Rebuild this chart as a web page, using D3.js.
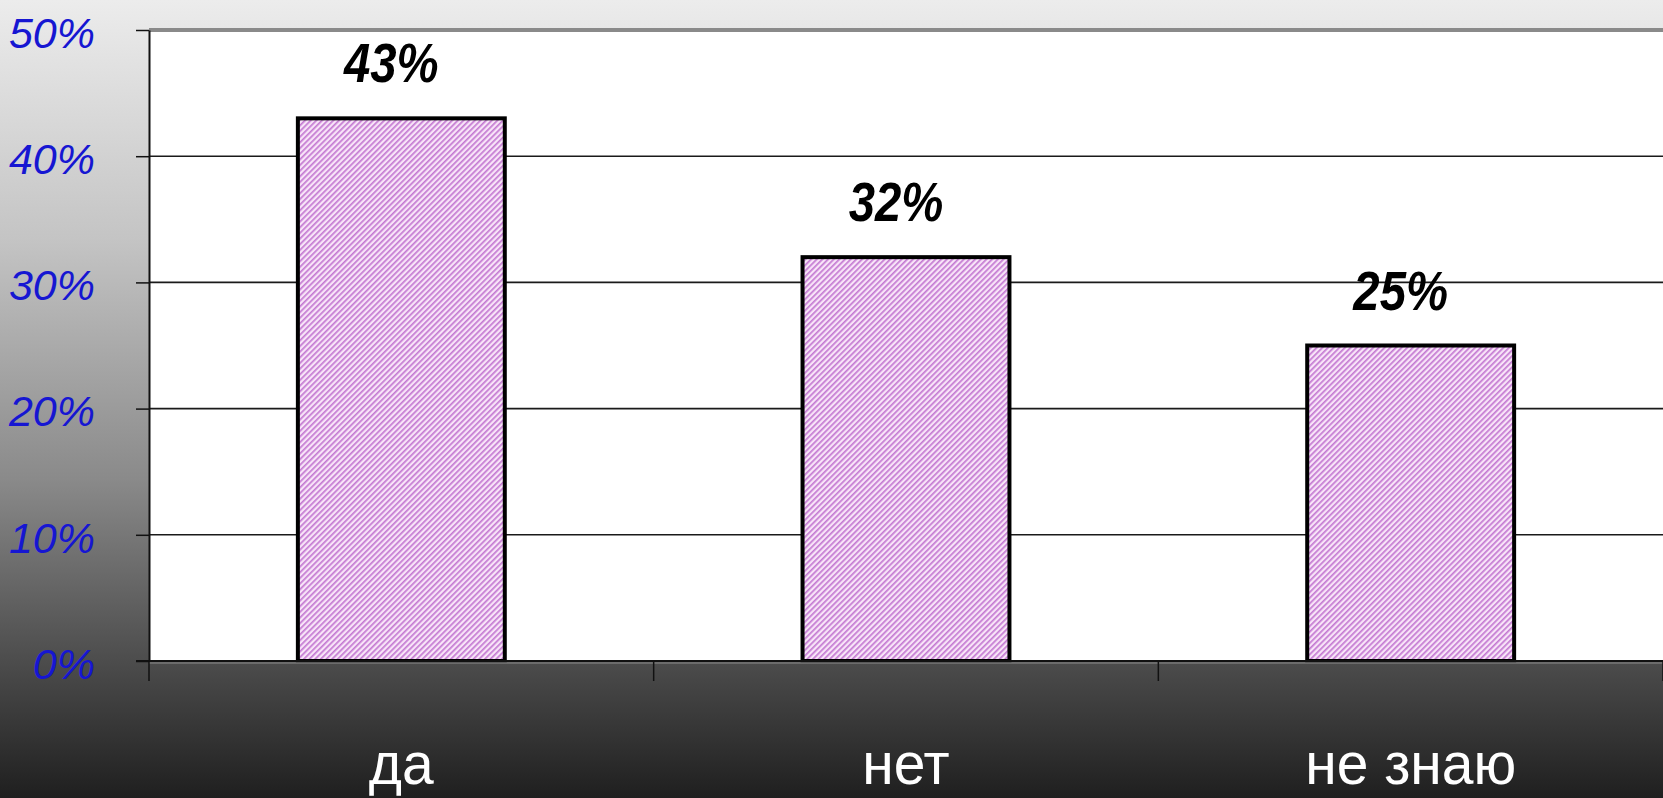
<!DOCTYPE html>
<html>
<head>
<meta charset="utf-8">
<script src="https://cdn.jsdelivr.net/npm/d3@7"></script>
<style>
    html, body { margin: 0; padding: 0; overflow: hidden; }
    svg { display: block; }
</style>
</head>
<body>
<div id="chart"></div>
<script>
// chart data
const categories = ["да", "нет", "не знаю"];
const values = [43, 32, 25];
const tickValues = [0, 10, 20, 30, 40, 50];

const width = 1663;
const height = 798;
const plot = { left: 149, right: 1663, top: 30, bottom: 661 };

const svg = d3.select("#chart")
    .append("svg")
    .attr("width", width)
    .attr("height", height);

const defs = svg.append("defs");

// background: vertical grey gradient
const bg = defs.append("linearGradient")
    .attr("id", "bg")
    .attr("x1", 0).attr("y1", 0)
    .attr("x2", 0).attr("y2", 1);
[
    [0, "#ececec"],
    [0.3, "#c4c4c4"],
    [0.6, "#8a8a8a"],
    [0.83, "#4c4c4c"],
    [1, "#1f1f1f"]
].forEach(([o, c]) => bg.append("stop").attr("offset", o).attr("stop-color", c));

// hatch pattern for bars
const hatch = defs.append("pattern")
    .attr("id", "hatch")
    .attr("patternUnits", "userSpaceOnUse")
    .attr("width", 4)
    .attr("height", 4)
    .attr("patternTransform", "rotate(45)");
hatch.append("rect")
    .attr("width", 4).attr("height", 4)
    .attr("fill", "#f8e4f8");
hatch.append("rect")
    .attr("width", 1.7).attr("height", 4)
    .attr("fill", "#c47ad2");

svg.append("rect")
    .attr("width", width)
    .attr("height", height)
    .attr("fill", "url(#bg)");

// scales
const x = d3.scaleBand()
    .domain(categories)
    .range([plot.left, plot.right])
    .paddingInner(0.59)
    .paddingOuter(0.295);

const y = d3.scaleLinear()
    .domain([0, 50])
    .range([plot.bottom, plot.top]);

// plot area
svg.append("rect")
    .attr("x", plot.left)
    .attr("y", plot.top)
    .attr("width", plot.right - plot.left)
    .attr("height", plot.bottom - plot.top)
    .attr("fill", "white");

// gridlines
svg.append("g")
    .selectAll("line")
    .data(tickValues.filter(d => d > 0 && d < 50))
    .enter()
    .append("line")
    .attr("x1", plot.left)
    .attr("x2", plot.right)
    .attr("y1", d => y(d))
    .attr("y2", d => y(d))
    .attr("stroke", "#1a1a1a")
    .attr("stroke-width", 1.6);

// top border
svg.append("line")
    .attr("x1", plot.left)
    .attr("x2", plot.right)
    .attr("y1", y(50))
    .attr("y2", y(50))
    .attr("stroke", "#8a8a8a")
    .attr("stroke-width", 4);

// y axis
const yAxis = d3.axisLeft(y)
    .tickValues(tickValues)
    .tickSize(13)
    .tickSizeOuter(0)
    .tickFormat(d => d + "%");

const yAxisG = svg.append("g")
    .attr("transform", `translate(${plot.left}, 0)`)
    .call(yAxis);

yAxisG.select(".domain")
    .attr("stroke", "#111")
    .attr("stroke-width", 2);
yAxisG.selectAll(".tick line")
    .attr("stroke", "#111")
    .attr("stroke-width", 1.5);
yAxisG.selectAll(".tick text")
    .attr("x", -54)
    .attr("dy", "0.4em")
    .attr("fill", "#1616d2")
    .attr("font-family", "Liberation Sans, Arial, sans-serif")
    .attr("font-style", "italic")
    .attr("font-size", 43)
    .attr("text-anchor", "end");

// bars
svg.append("g")
    .selectAll("rect")
    .data(values)
    .enter()
    .append("rect")
    .attr("x", (d, i) => x(categories[i]))
    .attr("y", d => y(d))
    .attr("width", x.bandwidth())
    .attr("height", d => y(0) - y(d))
    .attr("fill", "url(#hatch)")
    .attr("stroke", "#000")
    .attr("stroke-width", 4);

// x axis baseline and category separators
const sepX = categories.map(c => x(c) - (x.step() - x.bandwidth()) / 2);
sepX.push(plot.right);

svg.append("line")
    .attr("x1", plot.left - 13)
    .attr("x2", plot.right)
    .attr("y1", y(0))
    .attr("y2", y(0))
    .attr("stroke", "#111")
    .attr("stroke-width", 2);

svg.append("line")
    .attr("x1", plot.left)
    .attr("x2", plot.right)
    .attr("y1", y(0) + 2)
    .attr("y2", y(0) + 2)
    .attr("stroke", "#777")
    .attr("stroke-width", 1.5);

svg.append("g")
    .selectAll("line")
    .data(sepX)
    .enter()
    .append("line")
    .attr("x1", d => d)
    .attr("x2", d => d)
    .attr("y1", y(0))
    .attr("y2", y(0) + 20)
    .attr("stroke", "#111")
    .attr("stroke-width", 1.5);

// value labels
svg.append("g")
    .selectAll("text")
    .data(values)
    .enter()
    .append("text")
    .attr("transform", (d, i) =>
        `translate(${x(categories[i]) + x.bandwidth() / 2 - 10}, ${y(d) - 36}) scale(0.86, 1)`)
    .attr("text-anchor", "middle")
    .attr("font-family", "Liberation Sans, Arial, sans-serif")
    .attr("font-style", "italic")
    .attr("font-weight", "bold")
    .attr("font-size", 55)
    .attr("fill", "#000")
    .text(d => d + "%");

// category labels
svg.append("g")
    .selectAll("text")
    .data(categories)
    .enter()
    .append("text")
    .attr("transform", d => `translate(${x(d) + x.bandwidth() / 2}, 784) scale(0.95, 1)`)
    .attr("text-anchor", "middle")
    .attr("font-family", "Liberation Sans, Arial, sans-serif")
    .attr("font-size", 60)
    .attr("fill", "#fff")
    .text(d => d);
</script>
</body>
</html>
